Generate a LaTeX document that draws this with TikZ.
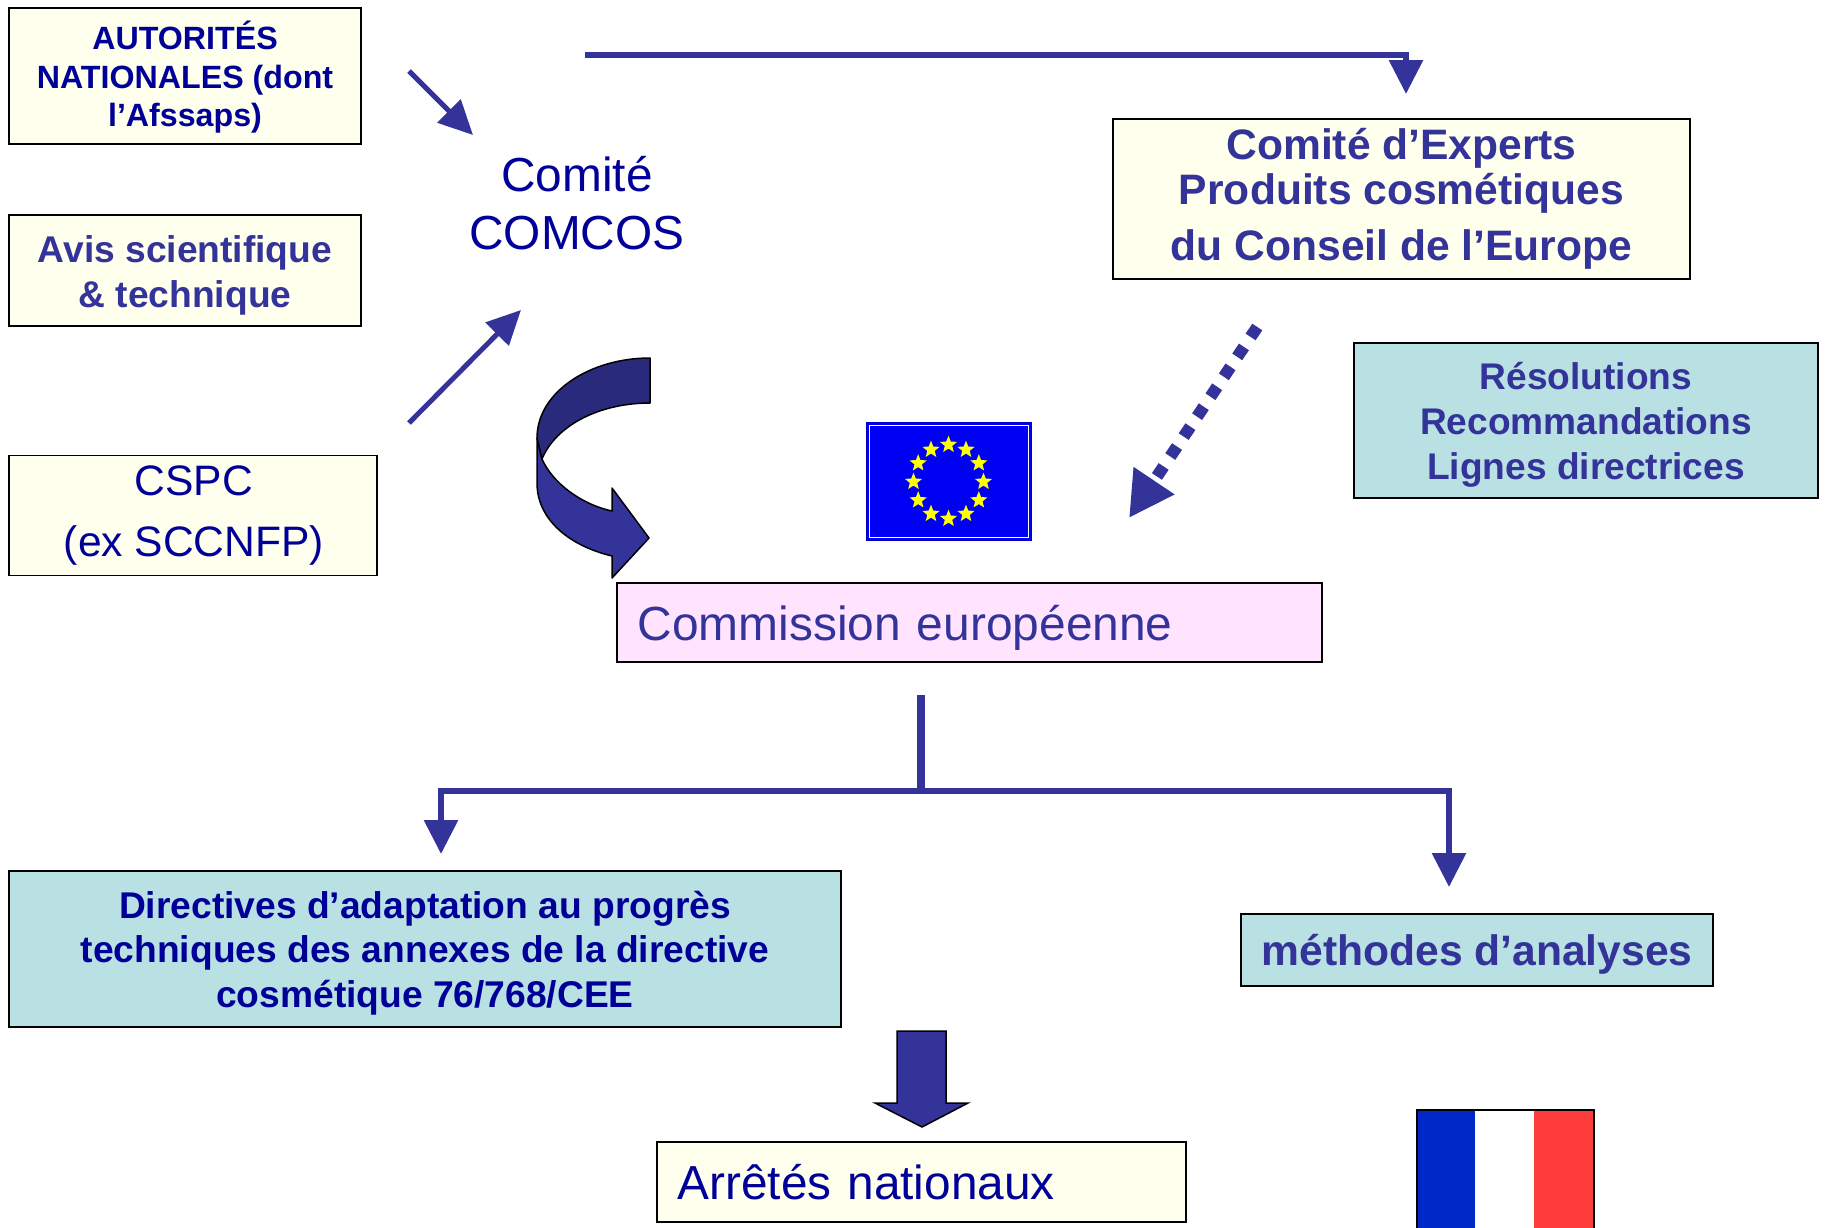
\documentclass[tikz,border=0pt]{standalone}
\usepackage{fontspec}
\setmainfont{Liberation Sans}
\usetikzlibrary{arrows.meta,shapes.geometric}
\definecolor{arrowblue}{HTML}{333399}
\definecolor{darkband}{HTML}{2A2A7C}
\definecolor{navytext}{HTML}{000099}
\definecolor{creamfill}{HTML}{FFFFEE}
\definecolor{tealfill}{HTML}{B9E0E3}
\definecolor{pinkfill}{HTML}{FFE3FF}
\definecolor{flagblue}{HTML}{0000F5}
\definecolor{frblue}{HTML}{0028C8}
\definecolor{frred}{HTML}{FF3C3C}
\definecolor{staryellow}{HTML}{FFFF00}
\newcommand{\fsz}[2]{\fontsize{#1}{#2}\selectfont}
\newcommand{\topgap}[2]{\raisebox{0pt}[\dimexpr\height+#1\relax]{#2}}
\tikzset{
  x=1pt,y=-1pt,
  box/.style={draw=black,line width=1.5pt,inner sep=0pt,align=center},
  cream/.style={box,fill=creamfill},
  teal/.style={box,fill=tealfill},
  flow/.style={draw=arrowblue,line width=6pt,-{Triangle[length=34pt,width=33pt]}},
  diag/.style={draw=arrowblue,line width=5pt,-{Triangle[length=34pt,width=32pt]}},
  band/.style={draw=black,line width=1.5pt,line join=round},
  eustar/.style={star,star points=5,star point ratio=2.3,fill=staryellow,minimum size=18pt,inner sep=0pt}
}
\begin{document}
\begin{tikzpicture}
\useasboundingbox (0,0) rectangle (1825,1227);
% boxes
\node[cream,minimum width=352pt,minimum height=136pt,text=navytext,font={\bfseries\fsz{32.2}{38.5}}] (autorites) at (185,76) {\topgap{2.4pt}{AUTORITÉS}\\NATIONALES (dont\\l’Afssaps)};
\node[cream,minimum width=352pt,minimum height=111pt,text=arrowblue,font={\bfseries\fsz{37.2}{45}}] (avis) at (185,270.5) {\topgap{9pt}{Avis scientifique}\\\&\ technique};
\node[cream,minimum width=368pt,minimum height=120pt,text=navytext,font={\fsz{42.6}{61.5}}] (cspc) at (193,515.5) {\hspace{2pt}CSPC\\\hspace{2pt}(ex SCCNFP)};
\node[text=navytext,align=center,inner sep=0pt,font={\fsz{47.8}{58}}] (comcos) at (577,203) {Comité\\COMCOS};
\node[cream,minimum width=577pt,minimum height=160pt,text=arrowblue,font={\bfseries\fsz{42.6}{45.5}}] (experts) at (1401.5,199) {Comité d’Experts\\Produits cosmétiques\\[10.5pt]du Conseil de l’Europe};
\node[teal,minimum width=464pt,minimum height=155pt,text=arrowblue,font={\bfseries\fsz{37.1}{45}}] (resol) at (1586,420.5) {\topgap{9pt}{Résolutions}\\Recommandations\\Lignes directrices};
\node[box,fill=pinkfill,minimum width=705pt,minimum height=79pt,text=arrowblue,align=left,text width=664pt,font={\fsz{47.9}{50}}] (commission) at (969.5,622.5) {\topgap{10pt}{Commission européenne}};
\node[teal,minimum width=832pt,minimum height=156pt,text=navytext,font={\bfseries\fsz{37.2}{44.4}}] (directives) at (425,949) {\topgap{8pt}{Directives d’adaptation au progrès}\\techniques des annexes de la directive\\cosmétique 76/768/CEE};
\node[teal,minimum width=472pt,minimum height=72pt,text=arrowblue,font={\bfseries\fsz{42.6}{50}}] (methodes) at (1477,950) {\topgap{9pt}{méthodes d’analyses}};
\node[cream,minimum width=529pt,minimum height=80pt,text=navytext,align=left,text width=488pt,font={\fsz{47.8}{50}}] (arretes) at (921.5,1182) {Arrêtés nationaux};
% EU flag
\path[fill=flagblue,draw=flagblue!80!black,line width=1pt] (866,422.5) rectangle (1031,540.5);
\draw[white,line width=1pt] (869,425.5) rectangle (1028,537.5);
\foreach \k in {0,...,11}{
  \node[eustar] (st\k) at ({948.5+35*cos(30*\k)},{481.7-37*sin(30*\k)}) {};
}
% French flag
\fill[frblue] (1417,1110) rectangle (1475,1240);
\fill[white] (1475,1110) rectangle (1534,1240);
\fill[frred] (1534,1110) rectangle (1594,1240);
\draw[black,line width=2pt] (1417,1110) rectangle (1594,1240);
% connectors
\coordinate (topstart) at (585,55);
\coordinate (toptip) at (1406,94);
\draw[flow] (topstart) -| (toptip);
\coordinate (aS) at (409,71);
\coordinate (aT) at (473,135);
\draw[diag] (aS) -- (aT);
\coordinate (cS) at (409,423);
\coordinate (cT) at (521,310);
\draw[diag] (cS) -- (cT);
\coordinate (dS) at (1257.3,327);
\coordinate (dT) at (1129,518);
\draw[draw=arrowblue,line width=12pt,dash pattern=on 12pt off 12pt,-{Triangle[length=45pt,width=46pt]}] (dS) -- (dT);
\coordinate (cmS) at (921,695);
\coordinate (cmJ) at (921,791);
\draw[draw=arrowblue,line width=8pt] (cmS) -- (cmJ);
\coordinate (bL) at (441,854);
\coordinate (bR) at (1449,887);
\draw[flow] (cmJ) -| (bL);
\draw[flow] (cmJ) -| (bR);
% block arrow
\path[draw=black,line width=1.5pt,fill=arrowblue,line join=miter] (897,1031) -- (946,1031) -- (946,1103) -- (968,1103) -- (922,1127) -- (875,1103) -- (897,1103) -- cycle;
% curved arrow
\path[band,fill=arrowblue] (537,438) -- (537,483) .. controls (537,520) and (570,546) .. (612,556) -- (612,578) -- (649,538) -- (612,488) -- (612,511) .. controls (580,504) and (552,482) .. (542,459) -- cycle;
\path[band,fill=darkband] (650,358) .. controls (590,358) and (537,392) .. (537,438) -- (542,459) .. controls (556,425) and (600,403) .. (650,403) -- cycle;
\end{tikzpicture}
\end{document}
